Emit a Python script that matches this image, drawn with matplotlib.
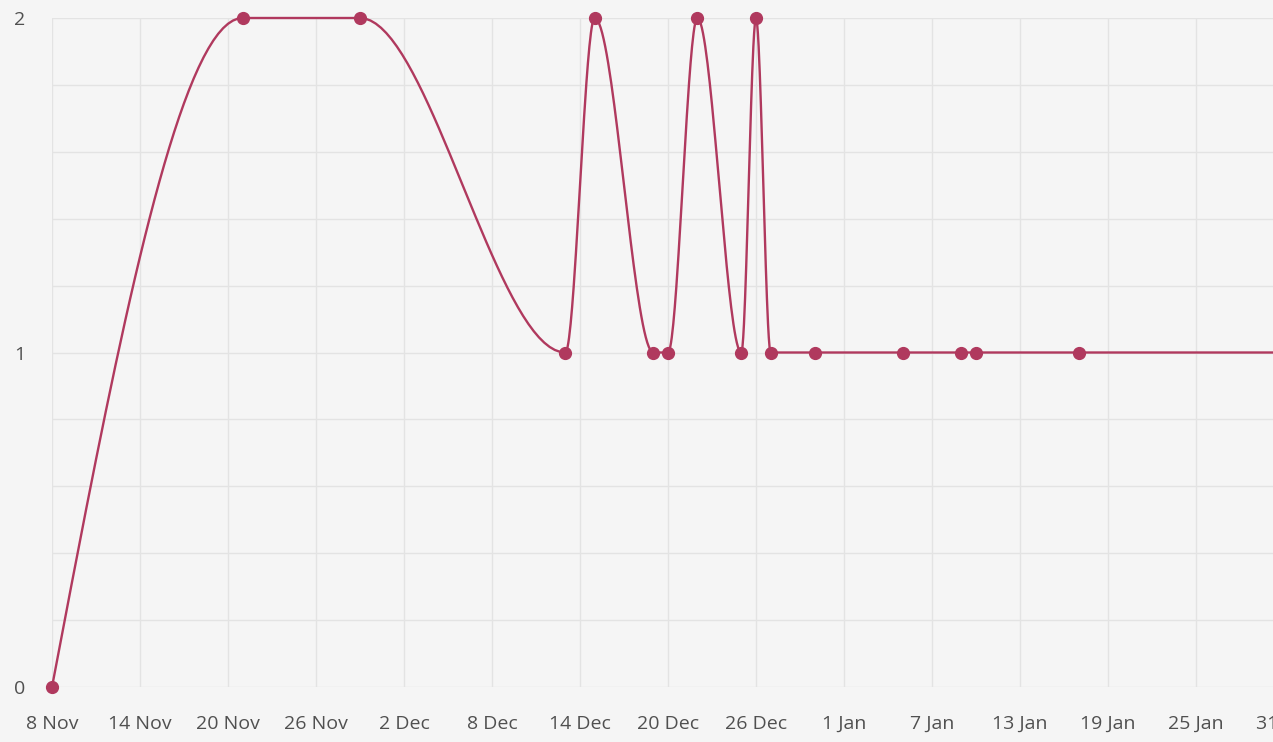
import datetime as dt

import numpy as np
import matplotlib
matplotlib.use('Agg')
import matplotlib.pyplot as plt
import matplotlib.dates as mdates
from matplotlib.ticker import MultipleLocator

plt.rcParams['font.family'] = ['Open Sans', 'DejaVu Sans']

# data
dates = ['2022-11-08', '2022-11-21', '2022-11-29', '2022-12-13', '2022-12-15',
         '2022-12-19', '2022-12-20', '2022-12-22', '2022-12-25', '2022-12-26',
         '2022-12-27', '2022-12-30', '2023-01-05', '2023-01-09', '2023-01-10',
         '2023-01-17', '2023-01-31']
values = [0, 2, 2, 1, 2, 1, 1, 2, 1, 2, 1, 1, 1, 1, 1, 1, 1]
x_start = '2022-11-08'
x_end = '2023-01-31'
tick_step_days = 6

line_color = '#b0395e'
bg = '#f5f5f5'
grid_color = '#e3e3e3'
text_color = '#505050'


def monotone_x(x, y, n=40):
    # d3 curveMonotoneX style smoothing between the data points
    x = np.asarray(x, float)
    y = np.asarray(y, float)
    k = len(x)
    h = np.diff(x)
    s = np.diff(y) / h
    t = np.zeros(k)
    for i in range(1, k - 1):
        p = (s[i - 1] * h[i] + s[i] * h[i - 1]) / (h[i - 1] + h[i])
        t[i] = (np.sign(s[i - 1]) + np.sign(s[i])) * min(abs(s[i - 1]), abs(s[i]), 0.5 * abs(p))
    t[0] = (3 * s[0] - t[1]) / 2
    t[-1] = (3 * s[-1] - t[-2]) / 2
    xs, ys = [], []
    u = np.linspace(0, 1, n)
    for i in range(k - 1):
        dx = h[i] / 3
        px = [x[i], x[i] + dx, x[i + 1] - dx, x[i + 1]]
        py = [y[i], y[i] + dx * t[i], y[i + 1] - dx * t[i + 1], y[i + 1]]
        b = [(1 - u) ** 3, 3 * (1 - u) ** 2 * u, 3 * (1 - u) * u ** 2, u ** 3]
        xs.append(sum(bi * pi for bi, pi in zip(b, px)))
        ys.append(sum(bi * pi for bi, pi in zip(b, py)))
    return np.concatenate(xs), np.concatenate(ys)


xd = mdates.date2num([dt.datetime.strptime(d, '%Y-%m-%d') for d in dates])
x0 = mdates.date2num(dt.datetime.strptime(x_start, '%Y-%m-%d'))
x1 = mdates.date2num(dt.datetime.strptime(x_end, '%Y-%m-%d'))

W, H = 1273, 742
fig = plt.figure(figsize=(W / 100, H / 100), dpi=100, facecolor=bg)
ax = fig.add_axes([52 / W, 55 / H, (1284 - 52) / W, (687 - 18) / H])
ax.set_facecolor(bg)

cx, cy = monotone_x(xd, values)
ax.plot(cx, cy, color=line_color, lw=1.7, clip_on=False, zorder=3)
ax.plot(xd, values, 'o', color=line_color, ms=8.5, clip_on=False, zorder=4)

ax.set_xlim(x0, x1)
ax.set_ylim(0, 2)

ticks = np.arange(x0, x1 + 0.5, tick_step_days)
ax.set_xticks(ticks)
ax.xaxis.set_major_formatter(mdates.DateFormatter('%-d %b'))
ax.set_yticks([0, 1, 2])
ax.yaxis.set_minor_locator(MultipleLocator(0.2))

ax.grid(True, which='both', color=grid_color, lw=1)
ax.set_axisbelow(True)
for sp in ax.spines.values():
    sp.set_visible(False)
ax.tick_params(axis='both', which='both', length=0, labelsize=14, colors=text_color)
ax.tick_params(axis='y', pad=19)
ax.tick_params(axis='x', pad=20)

fig.savefig('out.png', dpi=100, facecolor=bg)
